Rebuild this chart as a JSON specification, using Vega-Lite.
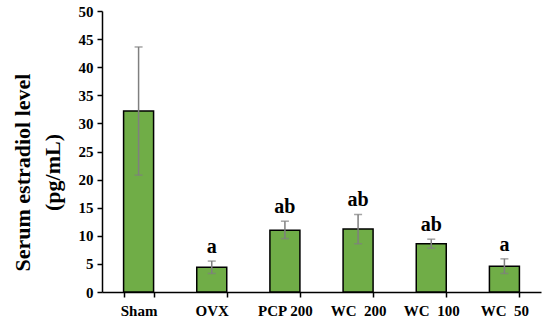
{
  "$schema": "https://vega.github.io/schema/vega-lite/v6.json",
  "width": 439,
  "height": 281,
  "autosize": "none",
  "padding": {"left": 102, "top": 11, "right": 9, "bottom": 28},
  "background": "white",
  "config": {
    "view": {"stroke": null},
    "font": "Liberation Serif",
    "axisY": {
      "tickCount": 10, "labelOverlap": false, "grid": false,
      "labelFont": "Liberation Serif", "labelFontWeight": "bold", "labelFontSize": 15,
      "labelColor": "black", "labelPadding": 4, "tickSize": 5, "tickColor": "black", "tickWidth": 1.5,
      "domainColor": "black", "domainWidth": 1.5,
      "titleFont": "Liberation Serif", "titleFontWeight": "bold", "titleFontSize": 22,
      "titleLineHeight": 30, "titleColor": "black",
      "titleX": -80, "titleY": 161, "titleAngle": -90, "titleAlign": "center", "titleBaseline": "middle"
    }
  },
  "data": {"values": [
    {"group": "Sham", "mean": 32.2, "lo": 20.8, "hi": 43.6, "sig": ""},
    {"group": "OVX", "mean": 4.4, "lo": 3.3, "hi": 5.5, "sig": "a"},
    {"group": "PCP 200", "mean": 11.0, "lo": 9.5, "hi": 12.6, "sig": "ab"},
    {"group": "WC\u00a0\u00a0200", "mean": 11.2, "lo": 8.6, "hi": 13.8, "sig": "ab"},
    {"group": "WC\u00a0\u00a0100", "mean": 8.6, "lo": 7.8, "hi": 9.4, "sig": "ab"},
    {"group": "WC\u00a0\u00a050", "mean": 4.6, "lo": 3.3, "hi": 5.9, "sig": "a"}
  ]},
  "encoding": {
    "x": {
      "field": "group", "type": "nominal", "sort": null,
      "scale": {"paddingInner": 0.59, "paddingOuter": 0.295},
      "axis": {
        "title": null, "labelAngle": 0, "tickBand": "extent",
        "labelFont": "Liberation Serif", "labelFontWeight": "bold", "labelFontSize": 15,
        "labelColor": "black", "labelPadding": 6, "tickSize": 5, "tickColor": "black",
        "domainColor": "black", "domainWidth": 1.5, "tickWidth": 1.5
      }
    }
  },
  "layer": [
    {
      "mark": {"type": "bar", "fill": "#70AD47", "stroke": "black", "strokeWidth": 1.5},
      "encoding": {
        "y": {
          "field": "mean", "type": "quantitative",
          "scale": {"domain": [0, 50], "nice": false},
          "axis": {"title": ["Serum estradiol level", "(pg/mL)"]}
        }
      }
    },
    {
      "mark": {"type": "rule", "color": "#7f7f7f", "strokeWidth": 1.5},
      "encoding": {
        "y": {"field": "lo", "type": "quantitative"},
        "y2": {"field": "hi"}
      }
    },
    {
      "mark": {"type": "tick", "color": "#7f7f7f", "thickness": 1.5, "size": 8},
      "encoding": {"y": {"field": "lo", "type": "quantitative"}}
    },
    {
      "mark": {"type": "tick", "color": "#7f7f7f", "thickness": 1.5, "size": 8},
      "encoding": {"y": {"field": "hi", "type": "quantitative"}}
    },
    {
      "mark": {"type": "text", "baseline": "bottom", "dy": -4, "font": "Liberation Serif", "fontWeight": "bold", "fontSize": 20, "color": "black"},
      "encoding": {
        "y": {"field": "hi", "type": "quantitative"},
        "text": {"field": "sig"}
      }
    }
  ]
}
